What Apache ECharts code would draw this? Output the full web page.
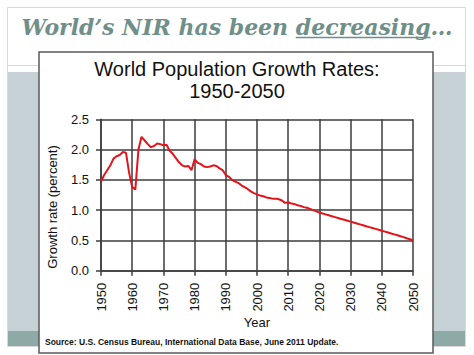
<!DOCTYPE html>
<html>
<head>
<meta charset="utf-8">
<script src="https://cdn.jsdelivr.net/npm/echarts@6/dist/echarts.min.js"></script>
<style>
html,body{margin:0;padding:0;background:#fff;}
#chart{width:474px;height:355px;}
</style>
</head>
<body>
<div id="chart"></div>
<script>
const years = [1950,1951,1952,1953,1954,1955,1956,1957,1958,1959,
1960,1961,1962,1963,1964,1965,1966,1967,1968,1969,
1970,1971,1972,1973,1974,1975,1976,1977,1978,1979,
1980,1981,1982,1983,1984,1985,1986,1987,1988,1989,
1990,1991,1992,1993,1994,1995,1996,1997,1998,1999,
2000,2001,2002,2003,2004,2005,2006,2007,2008,2009,
2010,2011,2012,2013,2014,2015,2016,2017,2018,2019,
2020,2021,2022,2023,2024,2025,2026,2027,2028,2029,
2030,2031,2032,2033,2034,2035,2036,2037,2038,2039,
2040,2041,2042,2043,2044,2045,2046,2047,2048,2049,2050];
const growthRate = [1.47,1.58,1.66,1.74,1.85,1.89,1.91,1.96,1.95,1.62,
1.38,1.34,2.00,2.21,2.15,2.09,2.04,2.06,2.10,2.09,
2.07,2.08,1.98,1.93,1.86,1.79,1.74,1.72,1.73,1.66,
1.84,1.78,1.76,1.72,1.71,1.72,1.74,1.73,1.69,1.66,
1.58,1.55,1.50,1.47,1.45,1.41,1.38,1.35,1.31,1.28,
1.26,1.24,1.23,1.21,1.20,1.19,1.19,1.18,1.16,1.12,
1.13,1.11,1.10,1.08,1.07,1.05,1.04,1.02,1.00,0.98,
0.96,0.945,0.93,0.915,0.90,0.885,0.87,0.855,0.84,0.825,
0.81,0.795,0.78,0.765,0.75,0.735,0.72,0.705,0.69,0.675,
0.66,0.645,0.63,0.615,0.60,0.585,0.57,0.555,0.535,0.52,0.50];
const titleLead = "World\u2019s NIR has been ";
const titleKey = "decreasing";
const titleTail = "\u2026";
const chartTitle = "World Population Growth Rates:\n1950-2050";
const sourceNote = "Source: U.S. Census Bureau, International Data Base, June 2011 Update.";
const yAxisName = "Growth rate (percent)";
const xAxisName = "Year";

const titleFont = 'italic bold 22px "DejaVu Serif"';
const titleColor = '#6f8f8b';
const ctx = document.createElement('canvas').getContext('2d');
ctx.font = titleFont;
const wLead = ctx.measureText(titleLead).width;
const wKey = ctx.measureText(titleKey).width;
const wAll = ctx.measureText(titleLead + titleKey + titleTail).width;
const titleLeft = 237 - wAll / 2;
const underlineY = 37.5;

const chart = echarts.init(document.getElementById('chart'), null, {renderer: 'svg'});
const option = {
  backgroundColor: '#ffffff',
  animation: false,
  graphic: [
    {type: 'rect', z: -10, shape: {x: 7.5, y: 7.5, width: 458, height: 339}, style: {fill: '#ffffff', stroke: '#d9d9d9', lineWidth: 1}},
    {type: 'line', z: -9, shape: {x1: 8, y1: 65.5, x2: 465, y2: 65.5}, style: {stroke: '#d4dadc', lineWidth: 1}},
    {type: 'rect', z: -9, shape: {x: 8, y: 72, width: 457, height: 259}, style: {fill: '#c7d2d7'}},
    {type: 'rect', z: -9, shape: {x: 8, y: 331, width: 457, height: 15}, style: {fill: '#8eaaa6'}},
    {type: 'rect', z: -8, shape: {x: 39, y: 52, width: 394, height: 301}, style: {fill: '#ffffff', stroke: '#5a5a5a', lineWidth: 1.5}},
    {type: 'text', z: 5, left: titleLeft, top: 16,
     style: {text: titleLead + titleKey + titleTail, font: titleFont, fill: titleColor}},
    {type: 'line', z: 5, shape: {x1: titleLeft + wLead, y1: underlineY, x2: titleLeft + wLead + wKey, y2: underlineY},
     style: {stroke: titleColor, lineWidth: 1.5}}
  ],
  title: [
    {text: chartTitle, left: 'center', top: 53,
     textStyle: {fontFamily: 'Liberation Sans', fontWeight: 'normal', fontSize: 20, lineHeight: 22, color: '#111'}},
    {text: sourceNote, left: 45, top: 337, padding: 0,
     textStyle: {fontFamily: 'Liberation Sans', fontWeight: 'bold', fontSize: 8.5, color: '#111'}}
  ],
  grid: {left: 101, right: 61, top: 119.3, bottom: 84.3, containLabel: false},
  xAxis: {
    type: 'value', min: 1950, max: 2050, interval: 10,
    name: xAxisName, nameLocation: 'middle', nameGap: 44,
    nameTextStyle: {fontFamily: 'Liberation Sans', fontSize: 13, color: '#111'},
    axisLine: {show: true, lineStyle: {color: '#3c3c3c', width: 1.5}},
    axisTick: {show: true, length: 5, lineStyle: {color: '#3c3c3c', width: 1.5}},
    axisLabel: {rotate: 90, margin: 12, fontFamily: 'Liberation Sans', fontSize: 13, color: '#111',
      formatter: v => String(v)},
    splitLine: {show: true, lineStyle: {color: '#3c3c3c', width: 1.5}}
  },
  yAxis: {
    type: 'value', min: 0, max: 2.5, interval: 0.5,
    name: yAxisName, nameLocation: 'middle', nameGap: 42,
    nameTextStyle: {fontFamily: 'Liberation Sans', fontSize: 13, color: '#111', padding: [0, 24, 0, 0]},
    axisLine: {show: true, lineStyle: {color: '#3c3c3c', width: 1.5}},
    axisTick: {show: true, length: 5, lineStyle: {color: '#3c3c3c', width: 1.5}},
    axisLabel: {margin: 12, fontFamily: 'Liberation Sans', fontSize: 13, color: '#111',
      formatter: v => v.toFixed(1)},
    splitLine: {show: true, lineStyle: {color: '#3c3c3c', width: 1.5}}
  },
  series: [{
    type: 'line', showSymbol: false, smooth: false,
    data: years.map((y, i) => [y, growthRate[i]]),
    lineStyle: {color: '#e3141b', width: 2}
  }]
};
chart.setOption(option);
</script>
</body>
</html>
